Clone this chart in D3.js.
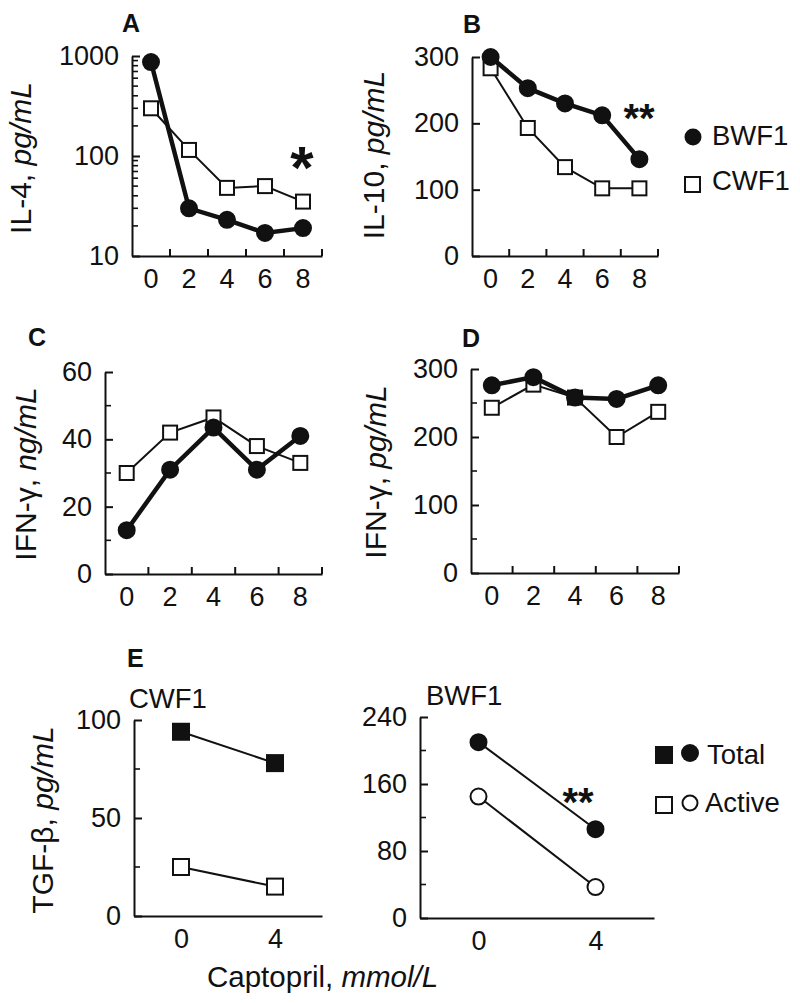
<!DOCTYPE html>
<html>
<head>
<meta charset="utf-8">
<script src="https://cdn.jsdelivr.net/npm/d3@7"></script>
<style>
  html, body { margin: 0; padding: 0; background: #fff; }
  svg { display: block; }
  text { font-family: "Liberation Sans", Arial, Helvetica, sans-serif; fill: #111; }
</style>
</head>
<body>
<svg id="chart" width="800" height="1003"></svg>
<script>
// ---------------- DATA ----------------
const doseCats = ["0", "2", "4", "6", "8"];           // captopril, mmol/L (panels A-D)
const il4BWF1  = [870, 30, 23, 17, 19];
const il4CWF1  = [300, 115, 48, 50, 35];
const il10BWF1 = [300, 253, 230, 212, 146];
const il10CWF1 = [283, 193, 134, 102, 102];
const ifnNgBWF1 = [13, 31, 43.5, 31, 41];
const ifnNgCWF1 = [30, 42, 46.5, 38, 33];
const ifnPgBWF1 = [276, 288, 258, 256, 276];
const ifnPgCWF1 = [243, 277, 258, 200, 237];

const tgfCats = ["0", "4"];                          // panel E
const tgfCWF1Total  = [94, 78];
const tgfCWF1Active = [25, 15];
const tgfBWF1Total  = [210, 106];
const tgfBWF1Active = [145, 37];

// tick values
const ticksA = [10, 100, 1000];
const minorA = [20, 30, 40, 50, 60, 70, 80, 90, 200, 300, 400, 500, 600, 700, 800, 900];
const ticksB = [0, 100, 200, 300];
const ticksC = [0, 20, 40, 60];
const minorC = [10, 30, 50];
const ticksD = [0, 100, 200, 300];
const minorD = [50, 150, 250];
const ticksEL = [0, 50, 100];
const minorEL = [25, 75];
const ticksER = [0, 80, 160, 240];
const minorER = [40, 120, 200];

// ---------------- DRAWING ----------------
const svg = d3.select("#chart");
const TICK_FONT = 27, LABEL_FONT = 30, LEG_FONT = 27.5;

function yAxis(g, y, major, minor, fmt) {
  g.call(d3.axisLeft(y).tickValues(major).tickFormat(fmt || d3.format("d"))
      .tickSizeInner(-8).tickSizeOuter(0).tickPadding(13));
  g.select(".domain").attr("stroke", "#111").attr("stroke-width", 2);
  g.selectAll(".tick line").attr("stroke", "#111").attr("stroke-width", 2);
  g.selectAll(".tick text").attr("font-size", TICK_FONT)
    .attr("font-family", "Liberation Sans, Arial, sans-serif").attr("fill", "#111");
  if (minor) {
    g.selectAll(".minor").data(minor).join("line").attr("class", "minor")
      .attr("x1", 0).attr("x2", 6)
      .attr("y1", d => y(d)).attr("y2", d => y(d))
      .attr("stroke", "#111").attr("stroke-width", 1.6);
  }
}

function xAxisCat(g, x, withBoundaryTicks) {
  g.call(d3.axisBottom(x).tickSize(0).tickSizeOuter(0).tickPadding(13));
  g.select(".domain").attr("stroke", "#111").attr("stroke-width", 2);
  g.selectAll(".tick text").attr("font-size", TICK_FONT)
    .attr("font-family", "Liberation Sans, Arial, sans-serif").attr("fill", "#111")
    .attr("dy", "0.71em");
  if (withBoundaryTicks) {
    const r = x.range(), step = x.step();
    const b = d3.range(1, x.domain().length + 1).map(i => r[0] + i * step);
    g.selectAll(".bt").data(b).join("line").attr("class", "bt")
      .attr("x1", d => d).attr("x2", d => d).attr("y1", 0).attr("y2", -7)
      .attr("stroke", "#111").attr("stroke-width", 2);
  }
}

function series(g, x, y, cats, vals, opts) {
  const pts = cats.map((c, i) => [x(c) + (x.bandwidth ? x.bandwidth() / 2 : 0), y(vals[i])]);
  g.append("path").datum(pts).attr("d", d3.line())
    .attr("fill", "none").attr("stroke", "#111").attr("stroke-width", opts.lw);
  if (opts.shape === "circle") {
    g.selectAll(null).data(pts).join("circle")
      .attr("cx", d => d[0]).attr("cy", d => d[1]).attr("r", opts.size)
      .attr("fill", opts.filled ? "#111" : "#fff").attr("stroke", "#111").attr("stroke-width", 2);
  } else {
    g.selectAll(null).data(pts).join("rect")
      .attr("x", d => d[0] - opts.size / 2).attr("y", d => d[1] - opts.size / 2)
      .attr("width", opts.size).attr("height", opts.size)
      .attr("fill", opts.filled ? "#111" : "#fff").attr("stroke", "#111").attr("stroke-width", 2);
  }
}

function yLabel(x, y, main, unit) {
  const t = svg.append("text").attr("transform", `translate(${x},${y}) rotate(-90)`)
    .attr("text-anchor", "middle").attr("font-size", LABEL_FONT);
  t.append("tspan").text(main);
  t.append("tspan").attr("font-style", "italic").text(unit);
}

function letter(x, y, s) {
  svg.append("text").attr("x", x).attr("y", y).attr("font-size", 25)
    .attr("font-weight", "bold").text(s);
}

function star(x, y, s, size) {
  svg.append("text").attr("x", x).attr("y", y).attr("font-size", size)
    .attr("font-weight", "bold").attr("text-anchor", "middle").text(s);
}

function linePanel(cfg) {
  const x = d3.scaleBand().domain(doseCats).range([cfg.x0, cfg.x1]).padding(0);
  const y = cfg.log
    ? d3.scaleLog().domain(cfg.domain).range([cfg.yBot, cfg.yTop])
    : d3.scaleLinear().domain(cfg.domain).range([cfg.yBot, cfg.yTop]);
  const g = svg.append("g");
  yAxis(g.append("g").attr("transform", `translate(${cfg.x0},0)`), y, cfg.ticks, cfg.minor);
  xAxisCat(g.append("g").attr("transform", `translate(0,${cfg.yBot})`), x, true);
  series(g, x, y, doseCats, cfg.cwf1, { lw: 2, shape: "rect", size: 14, filled: false });
  series(g, x, y, doseCats, cfg.bwf1, { lw: 4.5, shape: "circle", size: 8, filled: true });
}

// Panel A
linePanel({ x0: 132, x1: 322, yTop: 56, yBot: 256, log: true, domain: [10, 1000],
  ticks: ticksA, minor: minorA, bwf1: il4BWF1, cwf1: il4CWF1 });
letter(122, 32, "A");
yLabel(31, 158, "IL-4, ", "pg/mL");
star(302, 188, "*", 60);

// Panel B
linePanel({ x0: 472, x1: 658, yTop: 57, yBot: 256, domain: [0, 300],
  ticks: ticksB, minor: null, bwf1: il10BWF1, cwf1: il10CWF1 });
letter(463, 33, "B");
yLabel(384, 155, "IL-10, ", "pg/mL");
star(639, 132, "**", 40);

// Legend (A-D)
svg.append("circle").attr("cx", 693).attr("cy", 137).attr("r", 8.5).attr("fill", "#111");
svg.append("text").attr("x", 712).attr("y", 145).attr("font-size", LEG_FONT).text("BWF1");
svg.append("rect").attr("x", 685).attr("y", 177).attr("width", 15).attr("height", 15)
  .attr("fill", "#fff").attr("stroke", "#111").attr("stroke-width", 2);
svg.append("text").attr("x", 712).attr("y", 190).attr("font-size", LEG_FONT).text("CWF1");

// Panel C
linePanel({ x0: 105, x1: 322, yTop: 372, yBot: 574, domain: [0, 60],
  ticks: ticksC, minor: minorC, bwf1: ifnNgBWF1, cwf1: ifnNgCWF1 });
letter(28, 346, "C");
yLabel(36, 474, "IFN-γ, ", "ng/mL");

// Panel D
linePanel({ x0: 471, x1: 679, yTop: 369, yBot: 573, domain: [0, 300],
  ticks: ticksD, minor: minorD, bwf1: ifnPgBWF1, cwf1: ifnPgCWF1 });
letter(462, 347, "D");
yLabel(386, 472, "IFN-γ, ", "pg/mL");

// Panel E
function ePanel(cfg) {
  const x = d3.scalePoint().domain(tgfCats).range([cfg.x0, cfg.x1]).padding(0.5);
  const y = d3.scaleLinear().domain(cfg.domain).range([cfg.yBot, cfg.yTop]);
  const g = svg.append("g");
  yAxis(g.append("g").attr("transform", `translate(${cfg.x0},0)`), y, cfg.ticks, cfg.minor);
  xAxisCat(g.append("g").attr("transform", `translate(0,${cfg.yBot})`), x, false);
  series(g, x, y, tgfCats, cfg.total, { lw: 2, shape: cfg.shape, size: cfg.size, filled: true });
  series(g, x, y, tgfCats, cfg.active, { lw: 2, shape: cfg.shape, size: cfg.size, filled: false });
  svg.append("text").attr("x", cfg.titleX).attr("y", cfg.yTop - 12)
    .attr("font-size", LEG_FONT).text(cfg.title);
}
ePanel({ x0: 134, x1: 322, yTop: 720, yBot: 916, domain: [0, 100], ticks: ticksEL, minor: minorEL,
  total: tgfCWF1Total, active: tgfCWF1Active, shape: "rect", size: 16, title: "CWF1", titleX: 129 });
ePanel({ x0: 420, x1: 654, yTop: 717, yBot: 918, domain: [0, 240], ticks: ticksER, minor: minorER,
  total: tgfBWF1Total, active: tgfBWF1Active, shape: "circle", size: 8, title: "BWF1", titleX: 426 });
letter(127, 667, "E");
yLabel(53, 820, "TGF-β, ", "pg/mL");
star(578, 816, "**", 40);

// Legend E
svg.append("rect").attr("x", 655).attr("y", 746).attr("width", 18).attr("height", 18).attr("fill", "#111");
svg.append("circle").attr("cx", 690).attr("cy", 753).attr("r", 9).attr("fill", "#111");
svg.append("text").attr("x", 707).attr("y", 764).attr("font-size", LEG_FONT).text("Total");
svg.append("rect").attr("x", 656).attr("y", 797).attr("width", 16).attr("height", 16)
  .attr("fill", "#fff").attr("stroke", "#111").attr("stroke-width", 2);
svg.append("circle").attr("cx", 690).attr("cy", 803).attr("r", 7.5)
  .attr("fill", "#fff").attr("stroke", "#111").attr("stroke-width", 2);
svg.append("text").attr("x", 705).attr("y", 812).attr("font-size", LEG_FONT).text("Active");

// X axis title
const xt = svg.append("text").attr("x", 207).attr("y", 987).attr("font-size", 29.5);
xt.append("tspan").text("Captopril, ");
xt.append("tspan").attr("font-style", "italic").text("mmol/L");
</script>
</body>
</html>
